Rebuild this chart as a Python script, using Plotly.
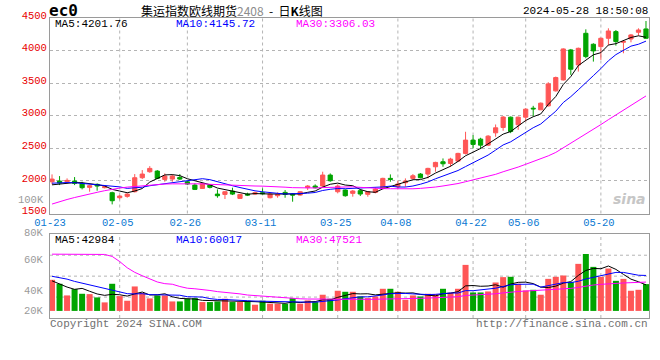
import plotly.graph_objects as go

# ---------------- data ----------------
dates = ["01-23", "01-24", "01-25", "01-26", "01-29", "01-30", "01-31",
         "02-01", "02-02", "02-05", "02-06", "02-07", "02-08", "02-19", "02-20",
         "02-21", "02-22", "02-23", "02-26", "02-27", "02-28", "02-29",
         "03-01", "03-04", "03-05", "03-06", "03-07", "03-08", "03-11", "03-12",
         "03-13", "03-14", "03-15", "03-18", "03-19", "03-20", "03-21", "03-22",
         "03-25", "03-26", "03-27", "03-28", "03-29",
         "04-01", "04-02", "04-03", "04-08", "04-09", "04-10", "04-11", "04-12",
         "04-15", "04-16", "04-17", "04-18", "04-19", "04-22", "04-23", "04-24",
         "04-25", "04-26", "04-29", "04-30",
         "05-06", "05-07", "05-08", "05-09", "05-10", "05-13", "05-14", "05-15",
         "05-16", "05-17", "05-20", "05-21", "05-22", "05-23", "05-24", "05-27", "05-28"]

opens = [1987, 1998, 1987, 1998, 1962, 1901, 1947, 1896, 1819, 1742,
         1763, 1834, 2049, 2141, 2151, 2023, 2028, 2054, 1987, 1936,
         1885, 1936, 1798, 1793, 1844, 1732, 1798, 1798, 1819, 1742,
         1773, 1824, 1798, 1783, 1896, 1921, 1921, 2090, 1834, 1860,
         1809, 1850, 1794, 1824, 1885, 2039, 1911, 1972, 2039, 2105,
         2105, 2217, 2294, 2268, 2304, 2422, 2626, 2641, 2549, 2738,
         2820, 2978, 2861, 2978, 3116, 3091, 3152, 3382, 3550, 4010,
         3780, 4265, 4097, 4061, 4189, 4291, 4128, 4178, 4281, 4332]
highs = [2100, 2074, 2039, 2059, 1987, 1936, 1962, 1921, 1834, 1783,
         1809, 2105, 2166, 2227, 2166, 2115, 2100, 2105, 1998, 1962,
         1967, 1952, 1870, 1844, 1896, 1798, 1819, 1834, 1885, 1819,
         1824, 1860, 1809, 1844, 1936, 1947, 2141, 2115, 1947, 1870,
         1860, 1870, 1845, 1896, 2049, 2100, 2003, 2039, 2105, 2120,
         2202, 2294, 2345, 2355, 2432, 2754, 2703, 2662, 2703, 2866,
         2995, 2988, 2988, 3116, 3152, 3203, 3515, 3601, 4035, 4025,
         4046, 4326, 4112, 4199, 4342, 4316, 4163, 4255, 4342, 4454]
lows = [1947, 1936, 1962, 1936, 1870, 1834, 1850, 1885, 1640, 1717,
        1742, 1824, 2028, 2125, 2028, 1987, 1987, 2013, 1936, 1860,
        1880, 1885, 1742, 1722, 1783, 1722, 1768, 1783, 1793, 1732,
        1742, 1742, 1681, 1773, 1860, 1885, 1911, 1987, 1809, 1758,
        1758, 1768, 1758, 1809, 1875, 1987, 1875, 1911, 2024, 2039,
        2039, 2141, 2217, 2217, 2294, 2406, 2498, 2488, 2534, 2677,
        2770, 2733, 2784, 2912, 2988, 3091, 3142, 3371, 3540, 3627,
        3678, 3882, 3831, 3857, 4086, 4076, 3959, 4127, 4230, 4178]
closes = [2028, 1967, 2008, 1962, 1896, 1926, 1921, 1911, 1696, 1768,
          1798, 2049, 2105, 2192, 2039, 2074, 2074, 2028, 1952, 1870,
          1957, 1901, 1773, 1834, 1798, 1793, 1783, 1819, 1804, 1798,
          1793, 1793, 1783, 1834, 1921, 1896, 2090, 2003, 1921, 1773,
          1845, 1799, 1834, 1875, 2039, 2024, 1952, 1998, 2079, 2049,
          2192, 2284, 2263, 2335, 2422, 2626, 2560, 2549, 2687, 2815,
          2980, 2759, 2978, 3101, 3106, 3193, 3489, 3586, 4025, 3714,
          4035, 3908, 3995, 4189, 4301, 4138, 4138, 4240, 4316, 4189]

volumes = [54800, 47800, 27300, 38400, 30200, 29600, 23800, 15000, 47800, 26100,
           17900, 43100, 31400, 22000, 27300, 27300, 16700, 16700, 21400, 22600,
           15600, 15600, 16700, 21400, 15600, 15600, 17900, 10900, 17900, 12700,
           12700, 12700, 22600, 12700, 18500, 15600, 28500, 21400, 35500, 33700,
           33700, 25500, 22600, 25500, 39000, 39000, 33700, 19700, 27300, 25500,
           30200, 29600, 39000, 32000, 39000, 81100, 32500, 32500, 34300, 50100,
           59500, 60100, 47800, 36100, 37200, 28500, 56500, 60100, 62400, 50700,
           82900, 100400, 77600, 60100, 74700, 53000, 56500, 35500, 37200, 47200]

# moving-average values before enough history is on screen
ma5_head = [1940, 1950, 1960, 1975]
ma10_head = [1965, 1972, 1975, 1972, 1962, 1950, 1940, 1930, 1920]
ma30_head = [1645, 1685, 1715, 1745, 1775, 1800, 1825, 1850, 1875, 1890,
             1905, 1915, 1930, 1940, 1948, 1952, 1955, 1957, 1960, 1960,
             1955, 1948, 1942, 1937, 1932, 1928, 1925, 1922, 1920]
vma5_head = [53000, 47000, 42000, 38000]
vma10_head = [61000, 59000, 56000, 52000, 49000, 46000, 42000, 39000, 37000]
vma30_head = [100000, 100000, 100000, 100000, 100000, 100000, 100000, 99500, 96000, 87000,
              76000, 68000, 62000, 57000, 51000, 48000, 47000, 43000, 40000, 39000,
              38000, 36000, 34000, 33000, 31000, 30000, 28000, 27000, 26000]

price_ticks = [1500, 2000, 2500, 3000, 3500, 4000, 4500]
date_ticks = ["01-23", "02-05", "02-26", "03-11", "03-25", "04-08", "04-22", "05-06", "05-20"]
grid_dates_main = ["02-05", "02-26", "03-11", "04-08", "04-22", "05-06", "05-20"]
grid_dates_vol = ["02-05", "03-11", "03-25", "04-08", "04-22", "05-06", "05-20"]
vol_tick_labels = ["80K", "60K", "40K", "20K"]
title_text = "集运指数欧线期货<span style='color:#8c8c8c'>2408</span>\u00a0 - \u00a0日<b>K</b>线图"
symbol_text = "ec0"
time_text = "2024-05-28 18:50:08"
price_ma_labels = ["MA5:4201.76", "MA10:4145.72", "MA30:3306.03"]
vol_ma_labels = ["MA5:42984", "MA10:60017", "MA30:47521"]
footer_left = "Copyright 2024 SINA.COM"
footer_right = "http://finance.sina.com.cn"


def moving_avg(vals, n, head):
    out = list(head)
    for i in range(len(head), len(vals)):
        out.append(sum(vals[i - n + 1:i + 1]) / n)
    return out


ma5 = moving_avg(closes, 5, ma5_head)
ma10 = moving_avg(closes, 10, ma10_head)
ma30 = moving_avg(closes, 30, ma30_head)
vma5 = moving_avg(volumes, 5, vma5_head)
vma10 = moving_avg(volumes, 10, vma10_head)
vma30 = moving_avg(volumes, 30, vma30_head)

# ---------------- styling ----------------
UP = "#ff5656"
DOWN = "#00a400"
MA_COLORS = ["#000000", "#0000ff", "#ff00ff"]
MONO = "Liberation Mono, DejaVu Sans Mono, monospace"
W, H = 660, 360
L, R, T, B = 50, 11, 18, 42


def pxx(x):
    return (x - L) / (W - L - R)


def pxy(y):
    return (H - B - y) / (H - T - B)


fig = go.Figure()

fig.add_trace(go.Candlestick(
    x=dates, open=opens, high=highs, low=lows, close=closes,
    increasing=dict(line=dict(color=UP, width=1), fillcolor=UP),
    decreasing=dict(line=dict(color=DOWN, width=1), fillcolor=DOWN),
    whiskerwidth=0, xaxis="x", yaxis="y", showlegend=False, hoverinfo="skip"))

for vals, col in zip([ma5, ma10, ma30], MA_COLORS):
    fig.add_trace(go.Scatter(x=dates, y=vals, mode="lines",
                             line=dict(color=col, width=1),
                             xaxis="x", yaxis="y", showlegend=False, hoverinfo="skip"))

bar_colors = [UP if c >= o else DOWN for o, c in zip(opens, closes)]
fig.add_trace(go.Bar(x=dates, y=volumes, marker=dict(color=bar_colors, line=dict(width=0)),
                     xaxis="x2", yaxis="y2", showlegend=False, hoverinfo="skip"))

for vals, col in zip([vma5, vma10, vma30], MA_COLORS):
    fig.add_trace(go.Scatter(x=dates, y=vals, mode="lines",
                             line=dict(color=col, width=1),
                             xaxis="x2", yaxis="y2", showlegend=False, hoverinfo="skip"))

FRAME = "#9a9a9a"
GRID = "#b4b4b4"

fig.update_layout(
    width=W, height=H,
    margin=dict(l=L, r=R, t=T, b=B, pad=0, autoexpand=False),
    paper_bgcolor="white", plot_bgcolor="white",
    boxgap=0.2, bargap=0.2,
    font=dict(family=MONO, size=10, color="#000"),
    xaxis=dict(type="category", range=[-0.27, 79.4], anchor="y", automargin=False,
               tickmode="array", tickvals=date_ticks, ticktext=date_ticks,
               ticklabelstandoff=-1, ticklabelshift=-2,
               showgrid=False, showline=True, mirror=True, linecolor=FRAME, linewidth=1,
               ticks="", tickfont=dict(family=MONO, size=10.5, color="#0a78d2"),
               rangeslider=dict(visible=False), fixedrange=True, zeroline=False),
    yaxis=dict(domain=[pxy(213.5), 1], range=[1500, 4500], anchor="x", automargin=False,
               tickmode="array", tickvals=price_ticks, ticklabelshift=-3,
               showgrid=True, gridcolor=GRID, griddash="dot", gridwidth=1,
               showline=True, mirror=True, linecolor=FRAME, linewidth=1,
               ticks="", tickfont=dict(family=MONO, size=10.5, color="#e80000"),
               zeroline=False),
    xaxis2=dict(type="category", range=[-0.27, 79.4], anchor="y2", matches="x", automargin=False,
                showticklabels=False, showgrid=False, ticks="",
                showline=True, mirror=True, linecolor=FRAME, linewidth=1, zeroline=False),
    yaxis2=dict(domain=[0, pxy(234.3)], range=[-12500, 135000], anchor="x2", automargin=False,
                showticklabels=False, showgrid=False, ticks="",
                showline=True, mirror=True, linecolor=FRAME, linewidth=1, zeroline=False),
)

shapes = []
for d in grid_dates_main:
    shapes.append(dict(type="line", xref="x", yref="y domain", x0=d, x1=d, y0=0, y1=1,
                       line=dict(color=GRID, width=1, dash="dot"), layer="below"))
for d in grid_dates_vol:
    shapes.append(dict(type="line", xref="x2", yref="y2 domain", x0=d, x1=d, y0=0, y1=1,
                       line=dict(color=GRID, width=1, dash="dot"), layer="below"))
for f in [0.25, 0.5, 0.75]:
    shapes.append(dict(type="line", xref="x2 domain", yref="y2 domain", x0=0, x1=1, y0=f, y1=f,
                       line=dict(color=GRID, width=1, dash="dot"), layer="below"))
fig.update_layout(shapes=shapes)

ann = []


def text(x, y, s, xanchor="left", color="#000", size=10.5, family=MONO):
    ann.append(dict(xref="paper", yref="paper", x=pxx(x), y=pxy(y), text=s,
                    xanchor=xanchor, yanchor="middle", showarrow=False,
                    font=dict(family=family, size=size, color=color)))


text(47, 11, "<b>" + symbol_text + "</b>", size=16, family="DejaVu Sans Mono")
text(139, 10, title_text, size=12, family="Noto Sans CJK SC")
text(650, 11, time_text, xanchor="right", size=11)

for s, x, col in zip(price_ma_labels, [53, 174, 294], MA_COLORS):
    text(x, 24, s, color=col, size=11)
for s, x, col in zip(vol_ma_labels, [53, 174, 294], MA_COLORS):
    text(x, 240, s, color=col, size=11)

text(46, 200, "100K", xanchor="right", color="#9a9a9a")
for s, y in zip(vol_tick_labels, [233, 260, 290.5, 311]):
    text(46, y, s, xanchor="right", color="#9a9a9a")

text(48, 324, footer_left, color="#707070", size=11)
text(650, 324, footer_right, xanchor="right", color="#707070", size=11)

text(648, 199, "<b><i>sina</i></b>", xanchor="right", color="#c6c6c6", size=14, family="DejaVu Sans")

fig.update_layout(annotations=ann)

fig.write_html("out.html", config={"displayModeBar": False, "staticPlot": True},
               post_script="document.body.style.margin='0px';document.body.style.padding='0px';")
